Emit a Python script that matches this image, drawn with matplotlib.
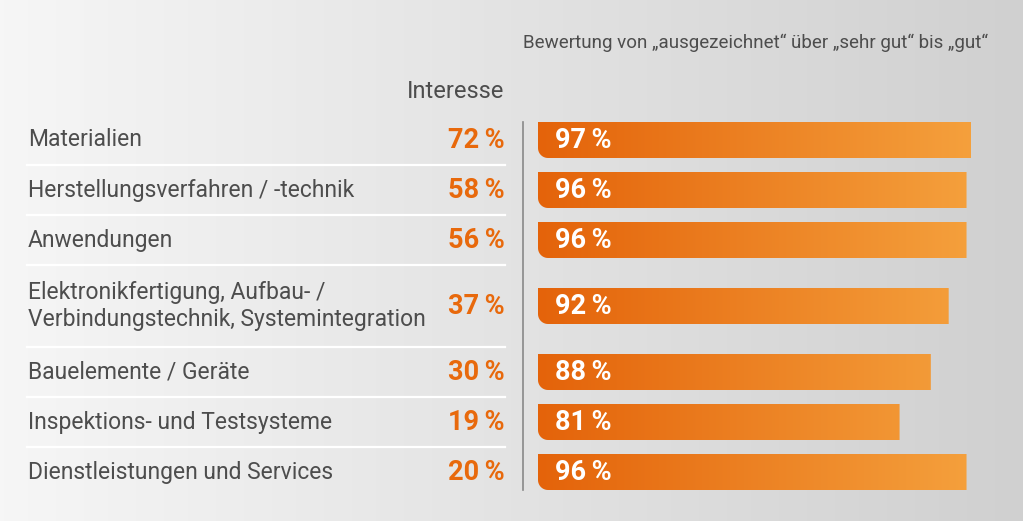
import numpy as np
import matplotlib
matplotlib.use("Agg")
import matplotlib.pyplot as plt
from matplotlib.colors import LinearSegmentedColormap
from matplotlib.patches import PathPatch
from matplotlib.path import Path

plt.rcParams['font.family'] = ['Roboto', 'DejaVu Sans']

# Daten
themen = ["Materialien",
          "Herstellungsverfahren / -technik",
          "Anwendungen",
          "Elektronikfertigung, Aufbau- /\nVerbindungstechnik, Systemintegration",
          "Bauelemente / Geräte",
          "Inspektions- und Testsysteme",
          "Dienstleistungen und Services"]
interesse = [72, 58, 56, 37, 30, 19, 20]
bewertung = [97, 96, 96, 92, 88, 81, 96]

untertitel = "Bewertung von \u201eausgezeichnet\u201c über \u201esehr gut\u201c bis \u201egut\u201c"

W, H = 1023, 521
grau = "#4d4d4d"
orange = "#e8690c"

fig = plt.figure(figsize=(W / 100, H / 100), dpi=100)
ax = fig.add_axes([0, 0, 1, 1])
ax.set_xlim(0, W)
ax.set_ylim(H, 0)
ax.axis("off")

# Hintergrund mit Verlauf
bg = np.linspace(0, 1, 256).reshape(1, -1)
bg_cmap = LinearSegmentedColormap.from_list("bg", ["#f6f6f6", "#d0d0d0"])
ax.imshow(bg, extent=[0, W, H, 0], cmap=bg_cmap, aspect="auto", zorder=0)

# Zeilenhöhen (zweizeilige Beschriftung -> höhere Zeile)
top = 115
hoehen = [50 + 32 * t.count("\n") for t in themen]
grenzen = top + np.concatenate([[0], np.cumsum(hoehen)])
mitten = (grenzen[:-1] + grenzen[1:]) / 2

# Trennlinien
for y in grenzen[1:-1]:
    ax.plot([27, 505], [y, y], color="white", lw=1.6, zorder=1)
ax.plot([523, 523], [122, 490], color="#888888", lw=1.2, zorder=1)

# Texte links
for t, v, y in zip(themen, interesse, mitten):
    ax.text(28, y, t, ha="left", va="center", fontsize=16.5, color=grau,
            linespacing=1.2, zorder=2)
    ax.text(505, y, f"{v}\u2009%", ha="right", va="center", fontsize=19.5,
            fontweight="bold", color=orange, zorder=2)

ax.text(504, 92, "Interesse", ha="right", va="center", fontsize=17, color=grau)
ax.text(988, 43, untertitel, ha="right", va="center", fontsize=13.5, color=grau)

# Balken
x0, x97 = 538, 971
px_pro_pct = (x97 - x0) / 97.0
bx = fig.add_axes([x0 / W, 0, (100 * px_pro_pct) / W, 1])
bx.set_xlim(0, 100)
bx.set_ylim(H, 0)
bx.axis("off")
bx.patch.set_alpha(0)

bar_cmap = LinearSegmentedColormap.from_list("bar", ["#e4630a", "#f5a23e"])
grad = np.linspace(0, 1, 256).reshape(1, -1)
bh = 36
r = 10
rx = r / px_pro_pct
ang = np.linspace(np.pi / 2, np.pi, 12)
for v, y in zip(bewertung, mitten):
    yt, yb = y - bh / 2, y + bh / 2
    # nur die untere linke Ecke ist abgerundet
    ecke = [(rx + rx * np.cos(a), yb - r + r * np.sin(a)) for a in ang]
    pts = [(0, yt), (v, yt), (v, yb)] + ecke + [(0, yt)]
    patch = PathPatch(Path(pts), facecolor="none", edgecolor="none")
    bx.add_patch(patch)
    im = bx.imshow(grad, extent=[0, 100, H, 0], cmap=bar_cmap, aspect="auto", zorder=1)
    im.set_clip_path(patch)
    bx.text(3.7, y, f"{v}\u2009%", ha="left", va="center", fontsize=19.5,
            fontweight="bold", color="white", zorder=3)

fig.savefig("out.png", dpi=100)
